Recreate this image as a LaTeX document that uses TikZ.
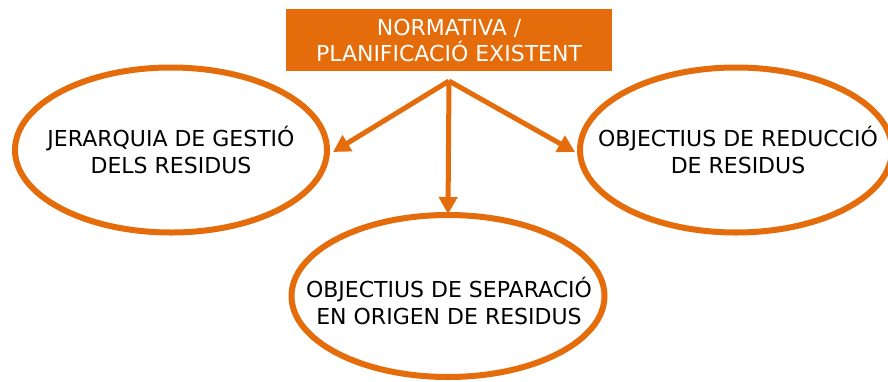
\documentclass[tikz,border=0pt]{standalone}
\usepackage{fontspec}
\setmainfont{DejaVu Sans}
\usetikzlibrary{shapes.geometric,arrows.meta}
\definecolor{org}{HTML}{E46C0A}
\begin{document}
\begin{tikzpicture}[x=1pt,y=-1pt,
  oval/.style={ellipse,draw=org,line width=6pt,fill=white,inner sep=0pt},
  ovaltext/.style={align=center,font=\fontsize{22}{27}\selectfont,inner sep=0pt},
  conn/.style={draw=org,line width=5pt,-{Triangle[length=17pt,width=18pt]}}]
\useasboundingbox (0,0) rectangle (888,381);
\node[fill=org,text=white,minimum width=326pt,minimum height=62pt,align=center,inner sep=0pt,font=\fontsize{22}{26}\selectfont] (top) at (449,40) {NORMATIVA /\\PLANIFICACIÓ EXISTENT};
\node[oval,minimum width=312pt,minimum height=165pt] (L) at (171,150) {};
\node[oval,minimum width=312pt,minimum height=165pt] (R) at (736,150) {};
\node[oval,minimum width=313pt,minimum height=162pt] (B) at (448,296) {};
\node[ovaltext] (Lt) at (171,150) {JERARQUIA DE GESTIÓ\\DELS RESIDUS};
\node[ovaltext] (Rt) at (738,150) {OBJECTIUS DE REDUCCIÓ\\DE RESIDUS};
\node[ovaltext] (Bt) at (449,301) {OBJECTIUS DE SEPARACIÓ\\EN ORIGEN DE RESIDUS};
\coordinate (apex) at (449,81);
\draw[conn] (apex) -- ([xshift=3pt,yshift=-2pt]L.east);
\draw[conn] (apex) -- ([xshift=-2pt,yshift=-2pt]R.west);
\draw[conn] (apex) -- ([yshift=-2pt]B.north);
\end{tikzpicture}
\end{document}
